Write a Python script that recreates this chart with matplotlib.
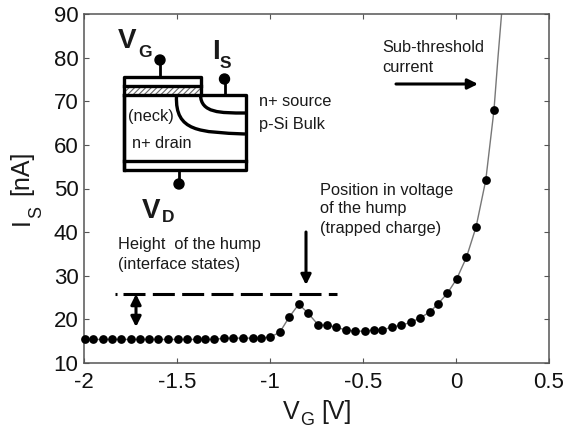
import matplotlib
matplotlib.use("Agg")
import matplotlib.pyplot as plt
from matplotlib.patches import Rectangle, PathPatch, Circle
from matplotlib.path import Path

plt.rcParams['font.family'] = ['Liberation Sans', 'DejaVu Sans']
plt.rcParams['hatch.linewidth'] = 0.8

# Data
vg_points = [-1.995, -1.95, -1.90, -1.85, -1.80, -1.745, -1.70, -1.65, -1.60, -1.55,
             -1.495, -1.445, -1.39, -1.35, -1.30, -1.245, -1.197, -1.145, -1.093, -1.05,
             -0.998, -0.948, -0.897, -0.845, -0.795, -0.74, -0.696, -0.646, -0.594, -0.542,
             -0.491, -0.441, -0.396, -0.346, -0.294, -0.242, -0.191, -0.14, -0.096, -0.046,
             0.004, 0.056, 0.108, 0.16, 0.204]
is_points = [15.4, 15.4, 15.4, 15.4, 15.4, 15.4, 15.4, 15.4, 15.4, 15.4,
             15.4, 15.4, 15.4, 15.4, 15.4, 15.7, 15.7, 15.7, 15.7, 15.7,
             16.0, 17.0, 20.5, 23.5, 21.4, 18.7, 18.7, 18.2, 17.6, 17.3,
             17.3, 17.6, 17.6, 18.2, 18.7, 19.3, 20.4, 21.7, 23.6, 26.0,
             29.3, 34.2, 41.2, 51.9, 67.9]
vg_line_extra = [0.226, 0.245]
is_line_extra = [80.2, 90.0]
x_ticks = [-2, -1.5, -1, -0.5, 0, 0.5]
x_tick_labels = ['-2', '-1.5', '-1', '-0.5', '0', '0.5']
y_ticks = [10, 20, 30, 40, 50, 60, 70, 80, 90]

W, H = 564, 429
fig = plt.figure(figsize=(W / 100, H / 100), dpi=100)
L, R, T, B = 84, 549, 14, 363
ax = fig.add_axes([L / W, 1 - B / H, (R - L) / W, (B - T) / H])
ax.plot(vg_points + vg_line_extra, is_points + is_line_extra, color='#777777', lw=1.0, zorder=2)
ax.plot(vg_points, is_points, ls='none', marker='o', ms=6.3, color='black', mew=0,
        zorder=3, clip_on=False)
ax.set_xlim(-2, 0.5)
ax.set_ylim(10, 90)
ax.set_xticks(x_ticks, x_tick_labels)
ax.set_yticks(y_ticks)
ax.tick_params(direction='in', top=True, right=True, length=3.5, width=0.8,
               color='#555555', labelsize=16, labelcolor='#111111')
ax.tick_params(axis='x', pad=6.5)
ax.tick_params(axis='y', pad=4)
for s in ax.spines.values():
    s.set_color('#555555')
    s.set_linewidth(1.1)

# Overlay in pixel coordinates for the annotations and the device sketch
ov = fig.add_axes([0, 0, 1, 1], facecolor='none')
ov.set_xlim(0, W)
ov.set_ylim(H, 0)
ov.axis('off')

tc = '#1a1a1a'
def label(x, y, s, size=11.8, **kw):
    ov.text(x, y, s, fontsize=size, color=tc, va='center', ha='left', **kw)

def base(x, y, s, size, **kw):
    ov.text(x, y, s, fontsize=size, color=tc, va='baseline', ha='left', **kw)

def vert(x, y, s, size):
    ov.text(x, y, s, fontsize=size, color=tc, va='baseline', ha='center',
            rotation=90, rotation_mode='anchor')

# Axis labels, set piece by piece because the subscripts sit low
base(283, 419, 'V', 18)
base(300, 425, 'G', 13)
base(321, 419, '[V]', 18)
vert(28.5, 222, 'I', 18)
vert(41.5, 212, 'S', 13)
vert(28.5, 173, '[nA]', 18)

label(382, 48, 'Sub-threshold')
label(382, 68, 'current')
label(320, 190, 'Position in voltage')
label(320, 209, 'of the hump')
label(320, 229, '(trapped charge)')
label(118, 245, 'Height  of the hump')
label(118, 265, '(interface states)')
label(259, 102, 'n+ source')
label(259, 124, 'p-Si Bulk')
label(128, 117, '(neck)')
label(132, 143, 'n+ drain')

# Arrows
def arrow(p0, p1, style='-|>'):
    ov.annotate('', xy=p1, xytext=p0,
                arrowprops=dict(arrowstyle=style + ',head_length=0.6,head_width=0.3',
                                lw=2.2, color='black', shrinkA=0, shrinkB=0))
arrow((396, 84), (478, 84))
arrow((306, 232), (306, 285))
arrow((136, 294), (136, 327), '<|-|>')

# Dashed level of the hump
ov.plot([123, 337], [294.3, 294.3], color='black', lw=2.2,
        ls=(0, (7.2, 2.4)), dash_capstyle='butt')
ov.plot([114.5, 117], [294.3, 294.3], color='black', lw=2.2, solid_capstyle='butt')

# Device sketch
lw = 2.4
ov.add_patch(Rectangle((124, 87.5), 76.5, 7, facecolor='white', edgecolor='#666666',
                       hatch='//////', lw=0, zorder=2))
box = dict(color='black', lw=lw, solid_capstyle='projecting', zorder=3)
ov.plot([124, 124, 200.5, 200.5], [170, 76.5, 76.5, 95], **box)
ov.plot([124, 200.5], [86, 86], **box)
ov.plot([124, 246, 246, 124, 124], [95, 95, 170, 170, 95], **box)
ov.plot([124, 246], [160.5, 160.5], **box)
ov.add_patch(PathPatch(Path([(200.5, 95), (201, 113), (220, 113), (245, 113)],
                            [Path.MOVETO, Path.CURVE4, Path.CURVE4, Path.CURVE4]),
                       fc='none', ec='black', lw=lw, zorder=3))
ov.add_patch(PathPatch(Path([(176.5, 96), (175, 132), (200, 132), (245, 134)],
                            [Path.MOVETO, Path.CURVE4, Path.CURVE4, Path.CURVE4]),
                       fc='none', ec='black', lw=lw, zorder=3))
for x, y0, y1 in [(160, 76, 60), (224.5, 95, 79), (179, 170, 184)]:
    ov.plot([x, x], [y0, y1], color='black', lw=2.0, zorder=3)
    ov.add_patch(Circle((x, y1), 5, color='black', zorder=4))

# Terminal names in the sketch
base(118, 48, 'V', 20, fontweight='bold')
base(138, 57, 'G', 12.5, fontweight='bold')
base(212, 59, 'I', 20, fontweight='bold')
base(220, 68, 'S', 12.5, fontweight='bold')
base(142, 218, 'V', 20, fontweight='bold')
base(162, 222, 'D', 12.5, fontweight='bold')

fig.savefig('out.png', dpi=100)
